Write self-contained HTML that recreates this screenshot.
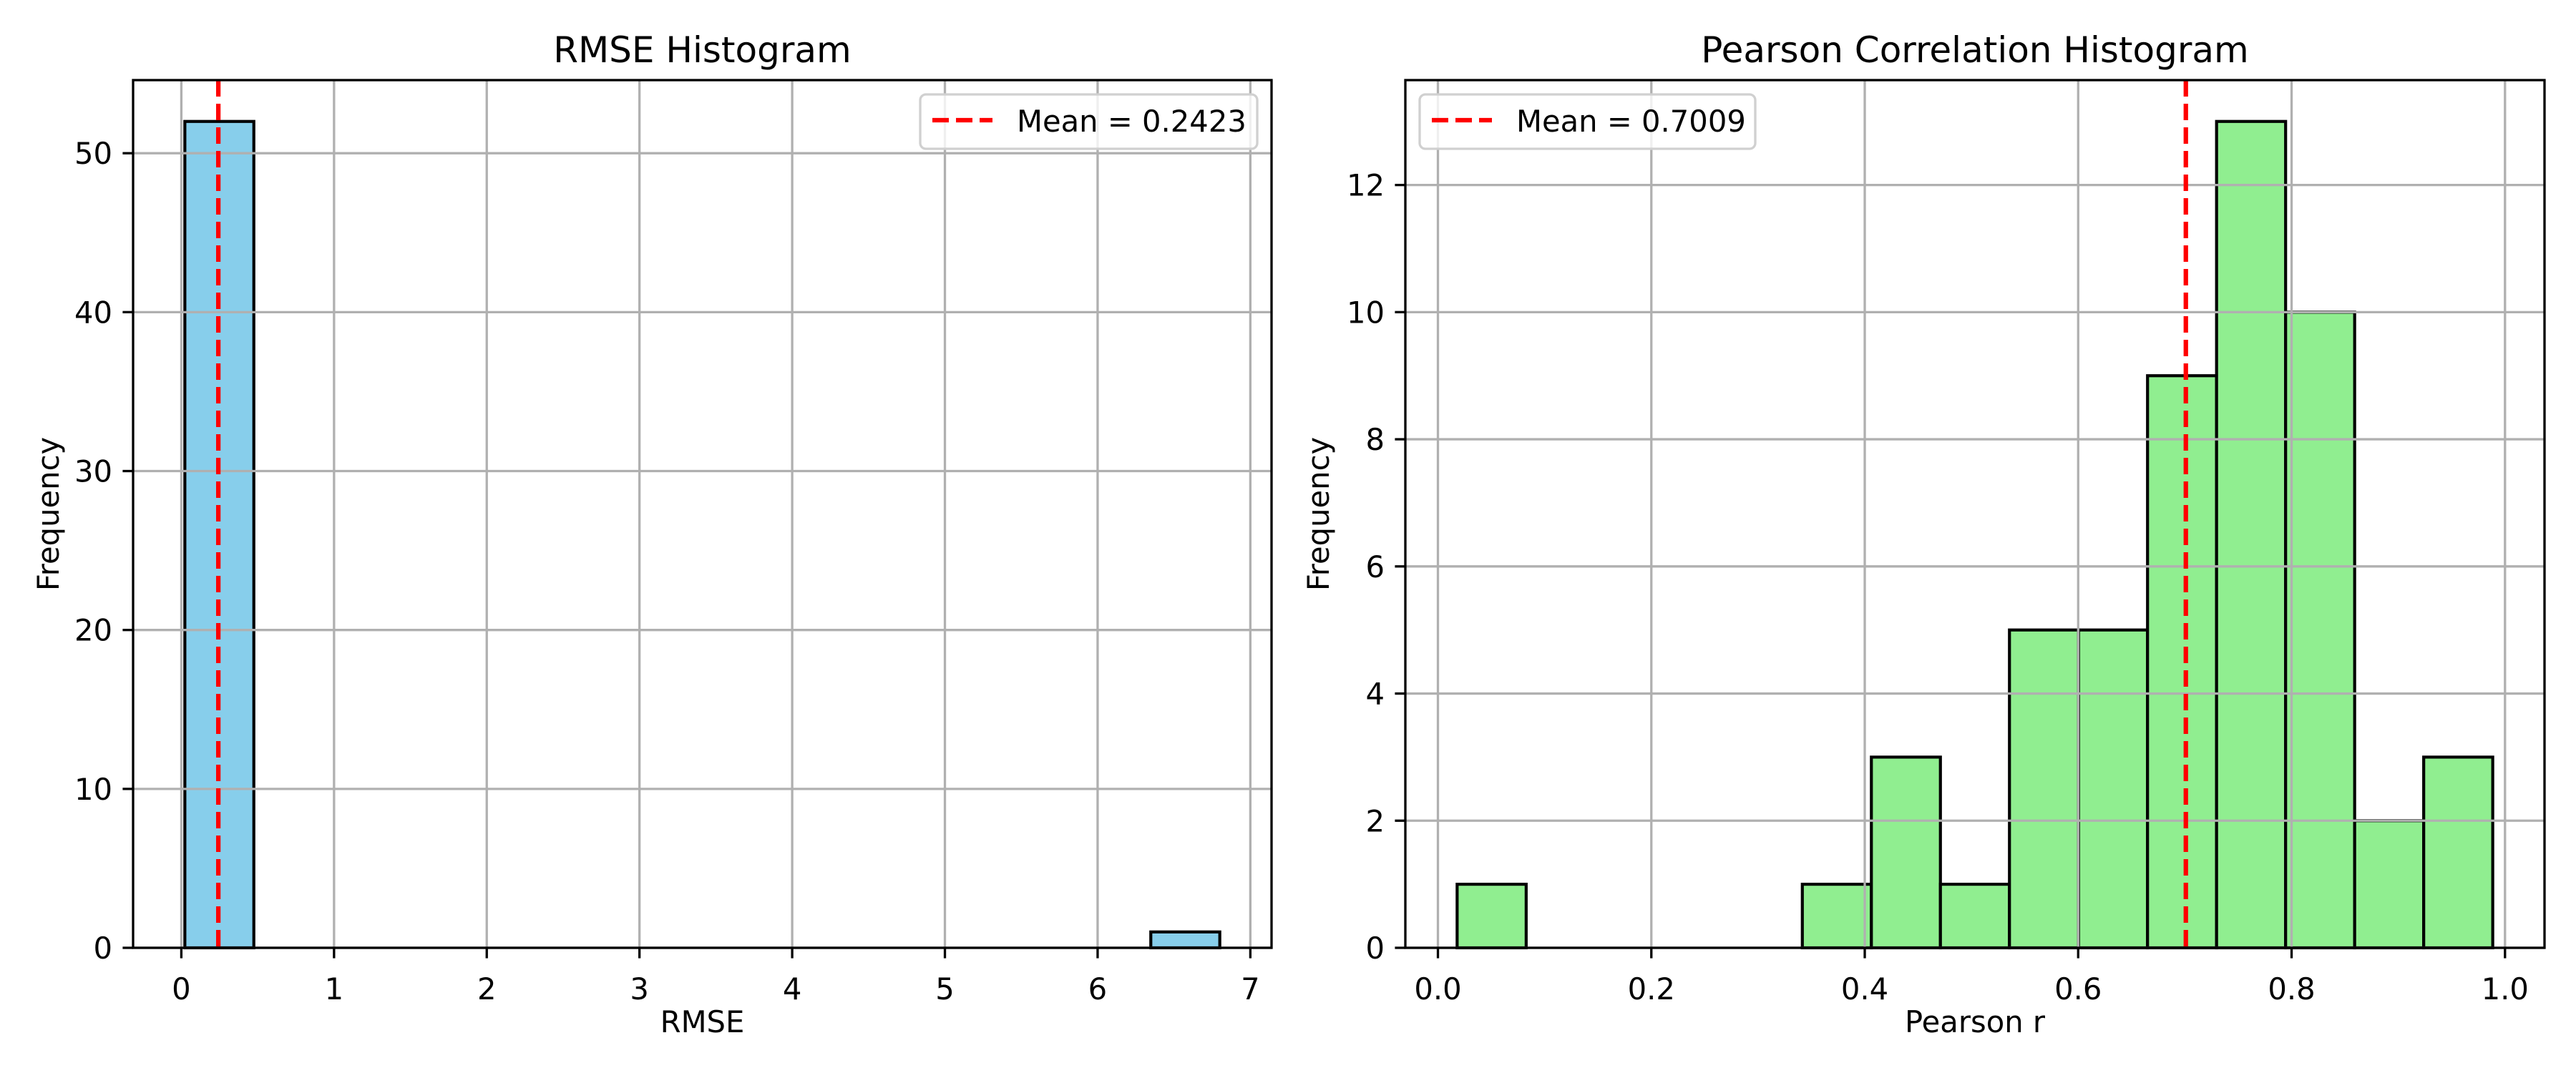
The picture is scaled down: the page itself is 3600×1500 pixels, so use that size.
<!DOCTYPE html>
<html><head><meta charset="utf-8"><style>
html,body{margin:0;padding:0;background:#fff}
svg{display:block;font-family:"DejaVu Sans","Liberation Sans",sans-serif}
</style></head><body>
<svg id="fig" width="3600" height="1500" viewBox="0 0 3600 1500" xmlns="http://www.w3.org/2000/svg"></svg>
<script>
// ---- Data: RMSE histogram ----
const rmseBinStart = 0.023;
const rmseBinWidth = 0.4518;
const rmseCounts = [52,0,0,0,0,0,0,0,0,0,0,0,0,0,1];
const rmseMean = 0.2423;
const rmseXTicks = [0,1,2,3,4,5,6,7];
const rmseYTicks = [0,10,20,30,40,50];
// ---- Data: Pearson histogram ----
const pearBinStart = 0.018;
const pearBinWidth = 0.0647;
const pearCounts = [1,0,0,0,0,1,3,1,5,5,9,13,10,2,3];
const pearMean = 0.7009;
const pearXTicks = [0.0,0.2,0.4,0.6,0.8,1.0];
const pearYTicks = [0,2,4,6,8,10,12];

const NS="http://www.w3.org/2000/svg";
const svg=document.getElementById('fig');
function mk(tag,attrs,parent){const e=document.createElementNS(NS,tag);for(const k in attrs)e.setAttribute(k,attrs[k]);(parent||svg).appendChild(e);return e;}

function panel(o){
  const g=mk('g',{});
  
  
  const L=o.left,R=o.right,T=112,B=1325;
  const n=o.counts.length;
  const xmin=o.binStart-0.05*n*o.binWidth, xmax=o.binStart+n*o.binWidth+0.05*n*o.binWidth;
  const ymax=Math.max(...o.counts)*1.05;
  const X=v=>L+(v-xmin)/(xmax-xmin)*(R-L);
  const Y=v=>B-v/ymax*(B-T);
  // bars
  o.counts.forEach((c,i)=>{
    if(c<=0)return;
    const x0=X(o.binStart+i*o.binWidth),x1=X(o.binStart+(i+1)*o.binWidth);
    const r=mk('rect',{x:x0,y:Y(c),width:x1-x0,height:B-Y(c),fill:o.color,stroke:'#000','stroke-width':4.2},g);
    
    
  });
  // grid
  o.xticks.forEach(t=>{const l=mk('line',{x1:X(t),x2:X(t),y1:T,y2:B,stroke:'#b0b0b0','stroke-width':3.3},g);
    });
  o.yticks.forEach(t=>{const l=mk('line',{x1:L,x2:R,y1:Y(t),y2:Y(t),stroke:'#b0b0b0','stroke-width':3.3},g);
    });
  // mean line
  const ml=mk('line',{x1:X(o.mean),x2:X(o.mean),y1:T,y2:B,stroke:'#ff0000','stroke-width':6.25,'stroke-dasharray':'23 10'},g);
  
  // spines
  const sp=mk('rect',{x:L,y:T,width:R-L,height:B-T,fill:'none',stroke:'#000','stroke-width':3.3},g);
  
  // ticks & labels
  o.xticks.forEach(t=>{
    mk('line',{x1:X(t),x2:X(t),y1:B,y2:B+14.6,stroke:'#000','stroke-width':3.3},g);
    const tx=mk('text',{x:X(t),y:B+72,'font-size':41.7,'text-anchor':'middle',fill:'#000'},g);
    tx.textContent=o.xfmt(t);
    
  });
  o.yticks.forEach(t=>{
    mk('line',{x1:L-14.6,x2:L,y1:Y(t),y2:Y(t),stroke:'#000','stroke-width':3.3},g);
    const tx=mk('text',{x:L-29,y:Y(t)+15,'font-size':41.7,'text-anchor':'end',fill:'#000'},g);
    tx.textContent=String(t);
    
  });
  const xl=mk('text',{x:(L+R)/2,y:1443,'font-size':41.7,'text-anchor':'middle',fill:'#000'},g);
  xl.textContent=o.xlabel;
  const yl=mk('text',{x:0,y:0,'font-size':41.7,'text-anchor':'middle',fill:'#000',transform:`translate(${o.ylabX},${(T+B)/2}) rotate(-90)`},g);
  yl.textContent='Frequency';
  const ti=mk('text',{x:(L+R)/2,y:87,'font-size':50,'text-anchor':'middle',fill:'#000'},g);
  ti.textContent=o.title;
  // legend
  const lg=mk('g',{},g);
  
  mk('rect',{x:o.leg[0],y:132,width:o.leg[1]-o.leg[0],height:76,rx:8,fill:'#fff','fill-opacity':0.8,stroke:'#d0d0d0','stroke-width':3.3},lg);
  mk('line',{x1:o.leg[0]+17,x2:o.leg[0]+101,y1:168,y2:168,stroke:'#ff0000','stroke-width':6.25,'stroke-dasharray':'23 10'},lg);
  const lt=mk('text',{x:o.leg[0]+135,y:184,'font-size':41.7,fill:'#000'},lg);
  lt.textContent='Mean = '+o.mean.toFixed(4);
  
}
panel({name:'rmse-histogram',left:186,right:1777,counts:rmseCounts,binStart:rmseBinStart,binWidth:rmseBinWidth,mean:rmseMean,
  xticks:rmseXTicks,yticks:rmseYTicks,xfmt:t=>String(t),color:'#87CEEB',xlabel:'RMSE',title:'RMSE Histogram',ylabX:82,leg:[1286,1757]});
panel({name:'pearson-histogram',left:1964,right:3556,counts:pearCounts,binStart:pearBinStart,binWidth:pearBinWidth,mean:pearMean,
  xticks:pearXTicks,yticks:pearYTicks,xfmt:t=>t.toFixed(1),color:'#90EE90',xlabel:'Pearson r',title:'Pearson Correlation Histogram',ylabX:1857,leg:[1984,2453]});
</script>
</body></html>
